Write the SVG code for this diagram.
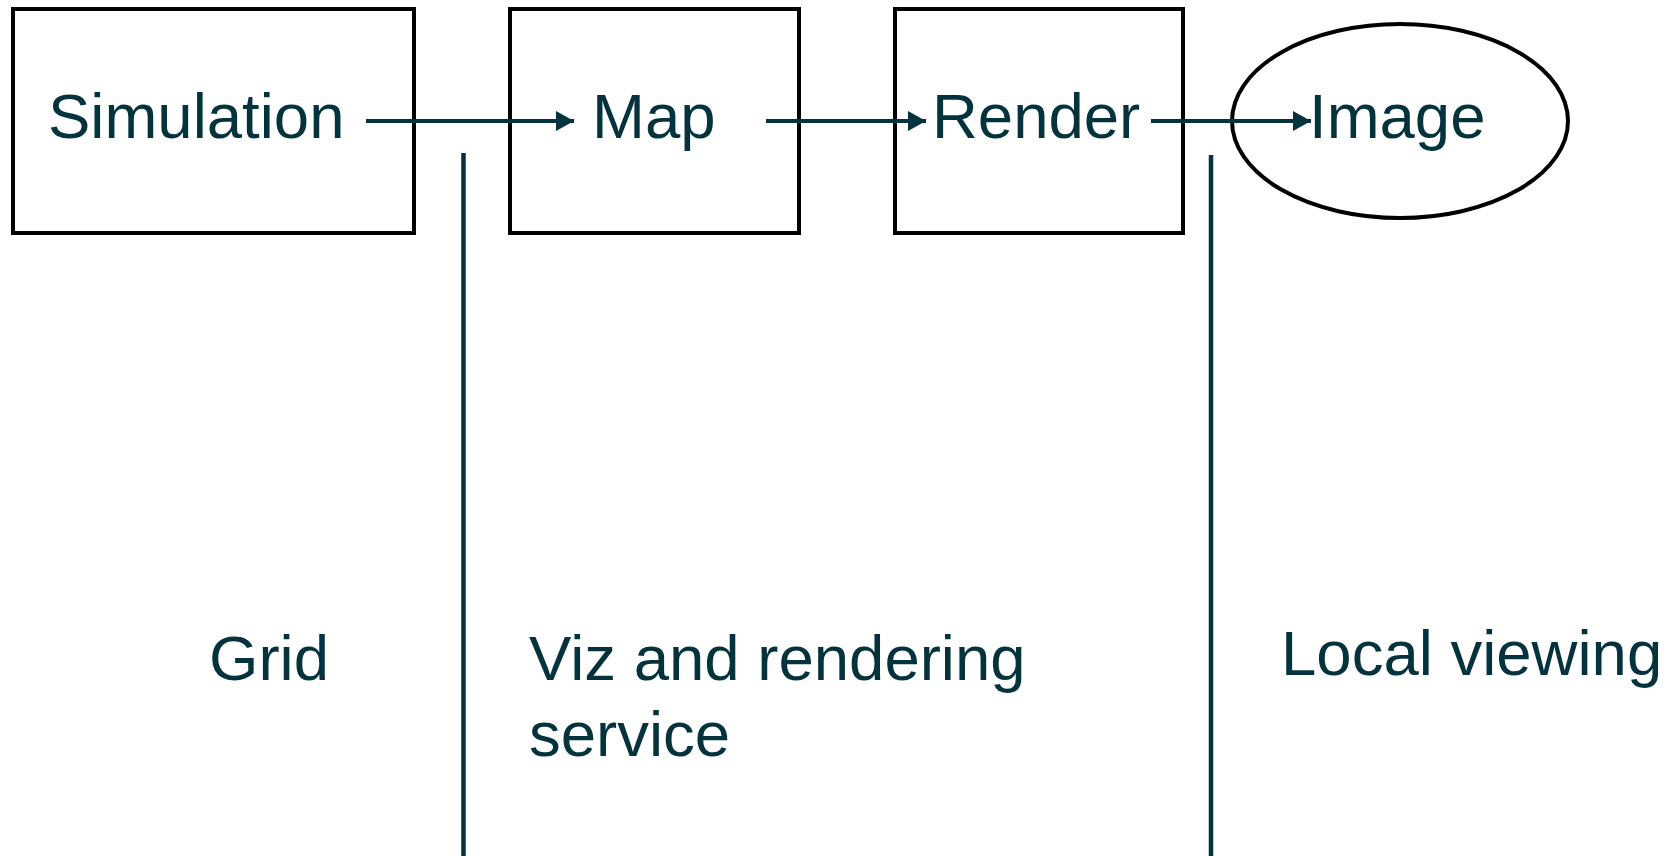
<svg xmlns="http://www.w3.org/2000/svg" width="1674" height="856" viewBox="0 0 1674 856">
<style>
.box{fill:none;stroke:#000;stroke-width:4}
.lbl{font-family:"Liberation Sans",Arial,sans-serif;font-size:63.5px;fill:#05333d}
.conn{stroke:#05333d;stroke-width:4;fill:none}
.div{stroke:#05333d;stroke-width:4.5;fill:none}
</style>
<defs>
<marker id="ah" markerWidth="5" markerHeight="5" refX="4.5" refY="2.5" orient="auto" markerUnits="strokeWidth">
<path d="M0,0 L4.5,2.5 L0,5 Z" fill="#05333d"/>
</marker>
</defs>
<rect width="1674" height="856" fill="#fff"/>
<g id="simulation">
<rect class="box" x="13" y="9" width="401" height="224"/>
<text class="lbl" x="48" y="138">Simulation</text>
</g>
<g id="map">
<rect class="box" x="510" y="9" width="289" height="224"/>
<text class="lbl" x="592" y="138">Map</text>
</g>
<g id="render">
<rect class="box" x="895" y="9" width="288" height="224"/>
<text class="lbl" x="932" y="138">Render</text>
</g>
<g id="image">
<ellipse class="box" cx="1400" cy="121" rx="168" ry="97"/>
<text class="lbl" x="1309" y="138">Image</text>
</g>
<g id="connectors">
<line class="conn" x1="366" y1="121" x2="574" y2="121" marker-end="url(#ah)"/>
<line class="conn" x1="766" y1="121" x2="926" y2="121" marker-end="url(#ah)"/>
<line class="conn" x1="1151" y1="121" x2="1311" y2="121" marker-end="url(#ah)"/>
</g>
<g id="dividers">
<line class="div" x1="463.5" y1="153" x2="463.5" y2="856"/>
<line class="div" x1="1211" y1="155" x2="1211" y2="856"/>
</g>
<g id="zone-labels">
<text class="lbl" x="209" y="680">Grid</text>
<text class="lbl" x="529" y="680">Viz and rendering</text>
<text class="lbl" x="529" y="756">service</text>
<text class="lbl" x="1281" y="675">Local viewing</text>
</g>
</svg>
